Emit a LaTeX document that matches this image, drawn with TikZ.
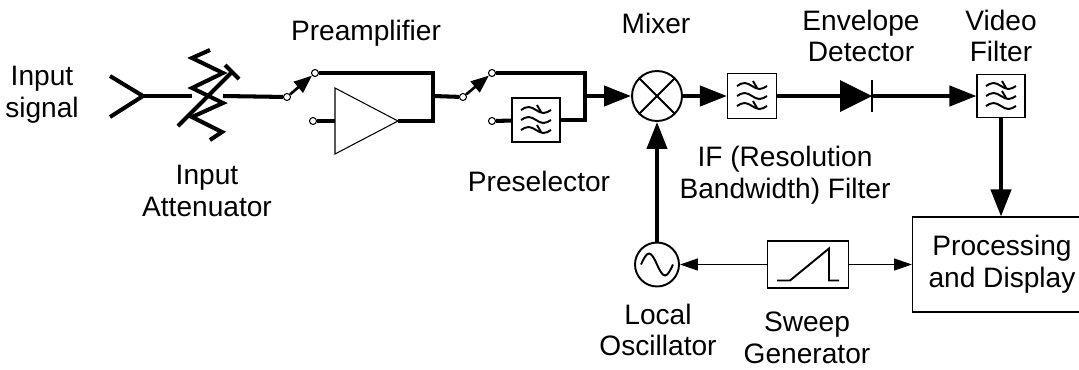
\documentclass[tikz,border=0pt]{standalone}
\usepackage{fontspec}
\setmainfont{Liberation Sans}
\usetikzlibrary{arrows.meta}

\newcommand{\filtsym}[2]{%
  \begin{scope}[shift={(#1)}]
    \foreach \row in {-10,0,10}
      \draw[line width=1.1pt] (-15,\row) sin (-7.5,\row-3) cos (0,\row) sin (7.5,\row+3) cos (15,\row);
    \foreach \row in {#2}
      \draw[line width=1.1pt] (1,\row-5) -- (5,\row+2);
  \end{scope}}

\begin{document}
\begin{tikzpicture}[x=0.02cm,y=-0.02cm,
    wire/.style = {line width=2.3pt},
    fine/.style = {line width=0.75pt},
    blk/.style = {draw, line width=0.6pt, fill=white, inner sep=0},
    contact/.style = {draw, circle, fill=white, line width=0.6pt, inner sep=0, minimum size=0.14cm},
    lbl/.style = {align=center, inner sep=0, font=\fontsize{16}{18}\selectfont},
    heavy/.style = {-{Triangle[length=0.54cm,width=0.4cm]}},
    light/.style = {-{Triangle[length=0.36cm,width=0.24cm]}},
    swarm/.style = {line width=1.5pt, -{Triangle[length=0.36cm,width=0.28cm]}}]
\useasboundingbox (0,0) rectangle (1079,369);

\coordinate (1) at (143,96);
\coordinate (2a) at (192,96);
\coordinate (2b) at (223,96);
\node[contact] (3) at (287,97) {};
\node[contact] (4) at (315,73) {};
\node[contact] (5) at (313,121) {};
\coordinate (6a) at (335,121);
\coordinate (6b) at (398,121);
\coordinate (7) at (433,96);
\node[contact] (8) at (463,97) {};
\node[contact] (9) at (492,73) {};
\node[contact] (10) at (492,121) {};
\node[blk, minimum width=0.96cm, minimum height=0.88cm] (11) at (536,120) {};
\coordinate (12) at (585,96);
\node[draw, circle, line width=1.1pt, minimum size=1cm, inner sep=0] (13) at (657,96) {};
\node[blk, minimum width=0.98cm, minimum height=0.9cm] (14) at (752,96) {};
\coordinate (15a) at (840,96);
\coordinate (15b) at (872,96);
\node[blk, minimum width=0.96cm, minimum height=0.86cm] (16) at (1001,96) {};
\node[blk, anchor=west, minimum width=4.4cm, minimum height=1.9cm] (17) at (912,264.5) {};
\node[draw, circle, line width=1.1pt, minimum size=0.88cm, inner sep=0] (18) at (657,264.5) {};
\node[blk, minimum width=1.62cm, minimum height=0.94cm] (19) at (808,264.5) {};

\draw[wire] (110,76) -- (1) -- (110,117);
\draw[wire] (1) -- (2a);
\draw[wire] (210,50) -- (192,58) -- (223,73) -- (192,88) -- (223,103) -- (192,117) -- (222,132) -- (210,140);
\draw[wire] (178,126) -- (232,72);
\draw[wire] (225,65) -- (239,79);
\draw[wire] (2b) -- (3);
\draw[swarm] (3) -- (4);
\draw[wire] (4) -| (7) |- (6b);
\draw[wire] (5) -- (6a);
\draw[line width=0.6pt, fill=white] (335,88) -- (6b) -- (335,154) -- cycle;
\draw[wire] (7) -- (8);
\draw[swarm] (8) -- (9);
\draw[wire] (9) -| (12) |- (11);
\draw[wire] (10) -- (11);
\draw[wire, heavy] (12) -- (13);
\draw[line width=1.1pt] (13.north west) -- (13.south east) (13.north east) -- (13.south west);
\draw[wire, heavy] (13) -- (14);
\draw[wire] (14) -- (15a);
\fill (840,80) -- (15b) -- (840,112) -- cycle;
\draw[line width=1.5pt] (872,80) -- (872,112);
\draw[wire, heavy] (15b) -- (16);
\draw[wire, heavy] (16) -- (16 |- 17.north);
\draw[wire, heavy] (18) -- (13);
\draw[fine, light] (19) -- (18);
\draw[fine, light] (19) -- (19 -| 17.west);

\filtsym{11.center}{-10,10}
\filtsym{14.center}{-10,10}
\filtsym{16.center}{-10,0}
\draw[line width=1.1pt, shift={(18.center)}] (-16,0) sin (-8,-11) cos (0,0) sin (8,11) cos (16,0);
\draw[line width=1.1pt, shift={(19.center)}] (-31,16) -- (-18,16) -- (21,-16) -- (21,16) -- (31,16);

\node[lbl] (20) at (42,95) {Input\\signal};
\node[lbl] (21) at (207,191) {Input\\Attenuator};
\node[lbl] (22) at (366,33) {Preamplifier};
\node[lbl] (23) at (539,181) {Preselector};
\node[lbl] (24) at (656,23) {Mixer};
\node[lbl] (25) at (785,175) {IF (Resolution\\Bandwidth) Filter};
\node[lbl] (26) at (861,36) {Envelope\\Detector};
\node[lbl] (27) at (1001,36) {Video\\Filter};
\node[lbl] (28) at (658,330) {Local\\Oscillator};
\node[lbl] (29) at (807,338) {Sweep\\Generator};
\node[lbl] (30) at (1002,264.5) {Processing\\and Display};
\end{tikzpicture}
\end{document}
